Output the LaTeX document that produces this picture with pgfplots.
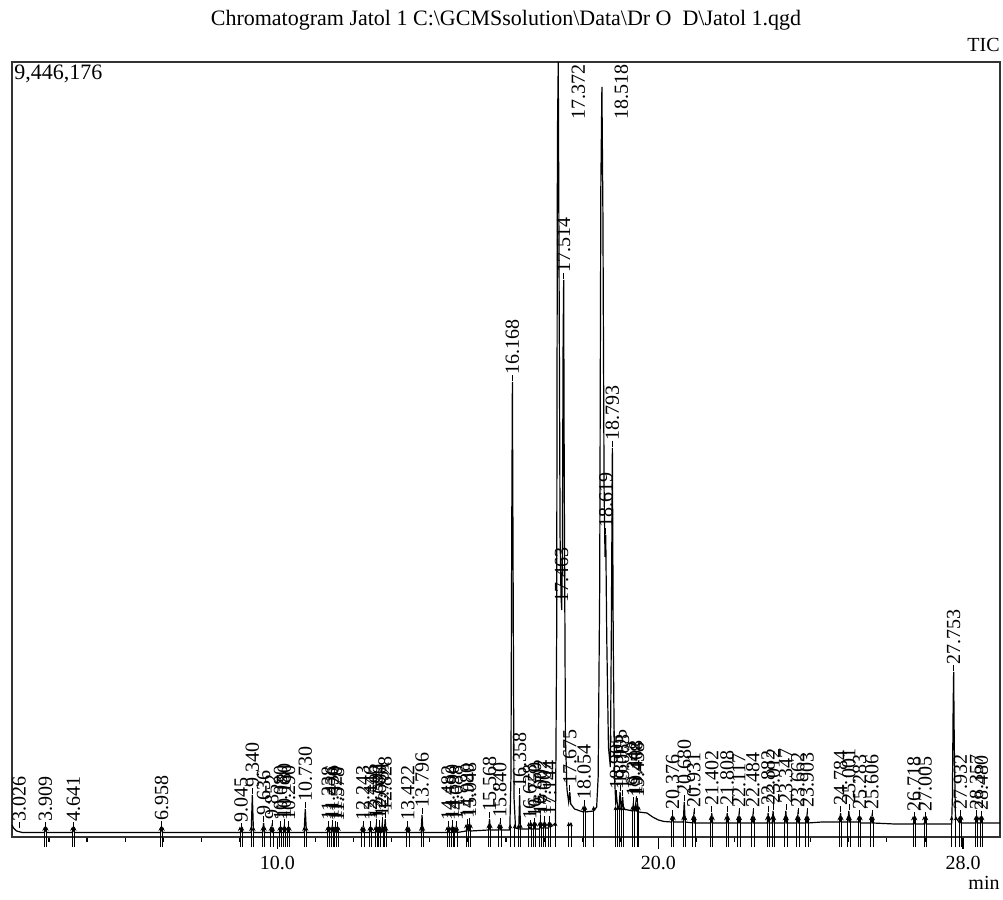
\documentclass[border=0pt]{standalone}
\usepackage{fontspec}
\setmainfont{Liberation Serif}
\usepackage{pgfplots}
\pgfplotsset{compat=1.18}
\usepackage{pgfplotstable}
\usetikzlibrary{arrows.meta}

\pgfplotstableread{
t I
3.03 146300
3.07 109700
3.15 73100
3.30 54900
3.88 54900
3.909 97500
3.94 54900
4.61 54900
4.641 97500
4.67 54900
6.93 54900
6.958 109700
6.99 54900
9.02 54900
9.045 85300
9.07 54900
9.31 54900
9.340 511900
9.37 54900
9.61 54900
9.636 170600
9.66 54900
9.83 54900
9.852 121900
9.875 54900
10.06 54900
10.08 109700
10.10 54900
10.16 54900
10.180 134100
10.20 54900
10.27 54900
10.290 109700
10.31 54900
10.70 54900
10.730 341300
10.76 54900
11.31 54900
11.338 109700
11.36 54900
11.41 54900
11.436 121900
11.46 54900
11.50 54900
11.520 109700
11.54 54900
11.56 54900
11.578 97500
11.60 54900
12.22 54900
12.243 109700
12.265 54900
12.42 54900
12.446 109700
12.47 54900
12.57 54900
12.592 134100
12.615 54900
12.66 54900
12.680 121900
12.70 54900
12.73 54900
12.751 158500
12.775 54900
12.805 54900
12.828 219400
12.85 54900
13.40 54900
13.422 109700
13.445 54900
13.77 54900
13.796 268200
13.82 54900
14.46 54900
14.482 109700
14.505 54900
14.57 54900
14.590 121900
14.61 54900
14.665 54900
14.688 109700
14.71 54900
14.80 60900
14.955 73100
14.980 134100
15.005 73100
15.025 73100
15.048 146300
15.07 73100
15.545 85300
15.568 219400
15.59 85300
15.815 85300
15.840 146300
15.865 85300
16.10 85300
16.13 731300
16.15 3656700
16.168 5546000
16.185 3412900
16.21 487600
16.25 109700
16.335 97500
16.358 511900
16.38 97500
16.605 97500
16.628 121900
16.65 97500
16.73 97500
16.750 146300
16.77 97500
16.88 97500
16.902 182800
16.925 109700
16.985 109700
17.007 170600
17.03 109700
17.12 109700
17.144 170600
17.17 121900
17.30 170600
17.33 2437800
17.35 8532300
17.372 9446176
17.39 7313400
17.42 3656700
17.445 2925400
17.463 2766900
17.48 3412900
17.50 6094500
17.514 6789300
17.53 4266200
17.56 1218900
17.60 585100
17.645 426600
17.675 548500
17.70 402200
17.80 341300
17.95 316900
18.03 304700
18.054 365700
18.08 304700
18.30 316900
18.38 365700
18.42 731300
18.46 3047300
18.49 7922900
18.518 9141800
18.545 7557200
18.575 4266200
18.60 3412900
18.619 3681100
18.645 2437800
18.69 1097000
18.74 853200
18.765 2437800
18.793 4741500
18.815 2437800
18.85 731300
18.88 426600
18.905 487600
18.93 365700
18.97 365700
18.995 548500
19.02 365700
19.04 365700
19.063 487600
19.085 341300
19.32 316900
19.342 402200
19.365 316900
19.385 316900
19.408 414400
19.43 316900
19.44 316900
19.458 390000
19.48 304700
19.70 292500
19.85 243800
20.00 207200
20.15 188900
20.35 182800
20.376 243800
20.40 182800
20.655 182800
20.680 426600
20.705 182800
20.91 170600
20.931 268200
20.955 170600
21.38 170600
21.402 292500
21.425 170600
21.785 170600
21.808 292500
21.83 170600
22.095 170600
22.117 268200
22.14 170600
22.46 170600
22.484 268200
22.505 170600
22.86 170600
22.882 292500
22.905 170600
22.99 170600
23.012 316900
23.035 170600
23.325 170600
23.347 316900
23.37 170600
23.64 170600
23.662 268200
23.685 170600
23.88 170600
23.903 268200
23.925 170600
24.30 182800
24.76 182800
24.784 292500
24.805 182800
24.98 182800
25.001 316900
25.025 182800
25.26 182800
25.283 243800
25.305 170600
25.585 170600
25.606 243800
25.63 170600
26.20 158500
26.695 158500
26.718 219400
26.74 158500
26.98 158500
27.005 219400
27.03 158500
27.70 158500
27.72 487600
27.74 1584600
27.753 2011200
27.77 1097000
27.80 243800
27.91 170600
27.932 243800
27.955 170600
28.335 170600
28.357 243800
28.38 170600
28.46 170600
28.48 231600
28.50 170600
28.97 170600
}\chrom

\pgfplotstableread{
x y v
3.879 -122000 250000
3.939 -122000 250000
4.611 -122000 250000
4.671 -122000 250000
6.928 -122000 250000
6.988 -122000 250000
9.015 -122000 250000
9.075 -122000 250000
9.310 -122000 250000
9.370 -122000 250000
9.606 -122000 250000
9.666 -122000 250000
9.822 -122000 250000
9.882 -122000 250000
10.050 -122000 250000
10.110 -122000 250000
10.150 -122000 250000
10.210 -122000 250000
10.260 -122000 250000
10.320 -122000 250000
10.700 -122000 250000
10.760 -122000 250000
11.308 -122000 250000
11.368 -122000 250000
11.406 -122000 250000
11.466 -122000 250000
11.490 -122000 250000
11.550 -122000 250000
11.608 -122000 250000
12.213 -122000 250000
12.273 -122000 250000
12.416 -122000 250000
12.476 -122000 250000
12.562 -122000 250000
12.622 -122000 250000
12.650 -122000 250000
12.710 -122000 250000
12.781 -122000 250000
12.798 -122000 250000
12.858 -122000 250000
13.392 -122000 250000
13.452 -122000 250000
13.766 -122000 250000
13.826 -122000 250000
14.452 -122000 250000
14.512 -122000 250000
14.560 -122000 250000
14.620 -122000 250000
14.658 -122000 250000
14.718 -122000 250000
14.950 -122000 280000
15.010 -122000 280000
15.018 -122000 280000
15.078 -122000 280000
15.538 -122000 280000
15.598 -122000 280000
15.810 -122000 280000
15.870 -122000 280000
16.110 -122000 280000
16.230 -122000 280000
16.328 -122000 280000
16.388 -122000 280000
16.598 -122000 305000
16.658 -122000 305000
16.720 -122000 305000
16.780 -122000 305000
16.872 -122000 305000
16.932 -122000 305000
16.977 -122000 305000
17.037 -122000 305000
17.114 -122000 305000
17.174 -122000 305000
17.300 -122000 305000
17.645 -122000 305000
17.705 -122000 305000
18.024 -122000 500000
18.084 -122000 500000
18.300 -122000 500000
18.875 -122000 500000
18.935 -122000 500000
18.965 -122000 500000
19.025 -122000 500000
19.093 -122000 500000
19.312 -122000 500000
19.372 -122000 500000
19.438 -122000 500000
19.488 -122000 500000
20.346 -122000 378000
20.406 -122000 378000
20.650 -122000 378000
20.710 -122000 378000
20.901 -122000 378000
20.961 -122000 378000
21.372 -122000 378000
21.432 -122000 378000
21.778 -122000 378000
21.838 -122000 378000
22.087 -122000 378000
22.147 -122000 378000
22.454 -122000 378000
22.514 -122000 378000
22.852 -122000 378000
22.912 -122000 378000
22.982 -122000 378000
23.042 -122000 378000
23.317 -122000 378000
23.377 -122000 378000
23.632 -122000 378000
23.692 -122000 378000
23.873 -122000 378000
23.933 -122000 378000
24.754 -122000 378000
24.814 -122000 378000
24.971 -122000 378000
25.031 -122000 378000
25.253 -122000 378000
25.313 -122000 378000
25.576 -122000 378000
25.636 -122000 378000
26.688 -122000 378000
26.748 -122000 378000
26.975 -122000 378000
27.035 -122000 378000
27.700 -122000 378000
27.810 -122000 378000
27.902 -122000 378000
27.962 -122000 378000
28.327 -122000 378000
28.387 -122000 378000
28.450 -122000 378000
28.510 -122000 378000
}\marks

\newcommand{\pk}[3]{\node[rotate=90, anchor=west, inner sep=0.3pt, font=\fontsize{10}{10}\selectfont] at (axis cs:#1,#2) {\rule[0.3em]{3pt}{0.4pt}#3};}

\begin{document}
\begin{tikzpicture}
\useasboundingbox (-6pt,-31.5pt) rectangle (495.5pt,418.5pt);
\begin{axis}[
  at={(0,0)}, anchor=south west,
  scale only axis, width=494pt, height=387.5pt,
  xmin=3.03, xmax=28.97, ymin=0, ymax=9446176,
  clip=false,
  axis line style={draw=black!80, line width=1pt},
  xtick={10,20,28}, xticklabels={10.0,20.0,28.0},
  xticklabel style={opacity=0},
  minor xtick={4,5,6,7,8,9,11,12,13,14,15,16,17,18,19,21,22,23,24,25,26,27},
  xtick pos=left, tick align=outside,
  major tick length=6pt, minor tick length=2.5pt,
  every tick/.style={black, line width=0.6pt},
  ytick=\empty,
]
\addplot[black, line width=0.6pt] table[x=t,y=I] {\chrom};
\addplot[black, line width=0.4pt, quiver={u=0,v=\thisrow{v}}, -{Stealth[length=2.2pt,width=2pt]}] table[x=x,y=y] {\marks};

\pk{3.22}{97500}{3.026}
\pk{3.909}{97500}{3.909}
\pk{4.641}{97500}{4.641}
\pk{6.958}{109700}{6.958}
\pk{9.045}{85300}{9.045}
\pk{9.340}{511900}{9.340}
\pk{9.636}{170600}{9.636}
\pk{9.852}{121900}{9.852}
\pk{10.080}{109700}{10.080}
\pk{10.180}{134100}{10.180}
\pk{10.290}{109700}{10.290}
\pk{10.730}{341300}{10.730}
\pk{11.338}{109700}{11.338}
\pk{11.436}{121900}{11.436}
\pk{11.520}{109700}{11.520}
\pk{11.578}{97500}{11.578}
\pk{12.243}{109700}{12.243}
\pk{12.446}{109700}{12.446}
\pk{12.592}{134100}{12.592}
\pk{12.680}{121900}{12.680}
\pk{12.751}{158500}{12.751}
\pk{12.828}{219400}{12.828}
\pk{13.422}{109700}{13.422}
\pk{13.796}{268200}{13.796}
\pk{14.482}{109700}{14.482}
\pk{14.590}{121900}{14.590}
\pk{14.688}{109700}{14.688}
\pk{14.980}{134100}{14.980}
\pk{15.048}{146300}{15.048}
\pk{15.568}{219400}{15.568}
\pk{15.840}{146300}{15.840}
\pk{16.168}{5546000}{16.168}
\pk{16.358}{511900}{16.358}
\pk{16.628}{121900}{16.628}
\pk{16.750}{146300}{16.750}
\pk{16.902}{182800}{16.902}
\pk{17.007}{170600}{17.007}
\pk{17.144}{170600}{17.144}
\pk{17.463}{2766900}{17.463}
\pk{17.514}{6789300}{17.514}
\pk{17.675}{548500}{17.675}
\pk{18.054}{365700}{18.054}
\pk{18.619}{3681100}{18.619}
\pk{18.793}{4741500}{18.793}
\pk{18.905}{487600}{18.905}
\pk{18.995}{548500}{18.995}
\pk{19.063}{487600}{19.063}
\pk{19.342}{402200}{19.342}
\pk{19.408}{414400}{19.408}
\pk{19.458}{390000}{19.458}
\pk{20.376}{243800}{20.376}
\pk{20.680}{426600}{20.680}
\pk{20.931}{268200}{20.931}
\pk{21.402}{292500}{21.402}
\pk{21.808}{292500}{21.808}
\pk{22.117}{268200}{22.117}
\pk{22.484}{268200}{22.484}
\pk{22.882}{292500}{22.882}
\pk{23.012}{316900}{23.012}
\pk{23.347}{316900}{23.347}
\pk{23.662}{268200}{23.662}
\pk{23.903}{268200}{23.903}
\pk{24.784}{292500}{24.784}
\pk{25.001}{316900}{25.001}
\pk{25.283}{243800}{25.283}
\pk{25.606}{243800}{25.606}
\pk{26.718}{219400}{26.718}
\pk{27.005}{219400}{27.005}
\pk{27.753}{2011200}{27.753}
\pk{27.932}{243800}{27.932}
\pk{28.357}{243800}{28.357}
\pk{28.480}{231600}{28.480}

\node[rotate=90, anchor=east, inner sep=1pt, font=\fontsize{10}{10}\selectfont] at (axis cs:17.90,9446176) {17.372};
\node[rotate=90, anchor=east, inner sep=1pt, font=\fontsize{10}{10}\selectfont] at (axis cs:19.03,9446176) {18.518};

\node[anchor=base, font=\fontsize{10}{12}\selectfont] at (axis cs:10,0) [yshift=-16.5pt] {10.0};
\node[anchor=base, font=\fontsize{10}{12}\selectfont] at (axis cs:20,0) [yshift=-16.5pt] {20.0};
\node[anchor=base, font=\fontsize{10}{12}\selectfont] at (axis cs:28,0) [yshift=-16.5pt] {28.0};
\node[anchor=base east, inner sep=0pt, font=\fontsize{10}{12}\selectfont] at (rel axis cs:1,0) [yshift=-26.5pt] {min};
\node[anchor=base east, inner sep=0pt, font=\fontsize{10}{12}\selectfont] at (rel axis cs:1,1) [yshift=5pt] {TIC};
\node[anchor=north west, inner sep=1pt, font=\fontsize{11}{12}\selectfont] at (rel axis cs:0,1) [yshift=-0.5pt] {9,446,176};
\node[anchor=base, inner sep=0pt, font=\fontsize{11}{12}\selectfont] at (rel axis cs:0.5,1) [yshift=18pt] {Chromatogram Jatol 1 C:\textbackslash GCMSsolution\textbackslash Data\textbackslash Dr O\ \ D\textbackslash Jatol 1.qgd};
\end{axis}
\end{tikzpicture}
\end{document}
